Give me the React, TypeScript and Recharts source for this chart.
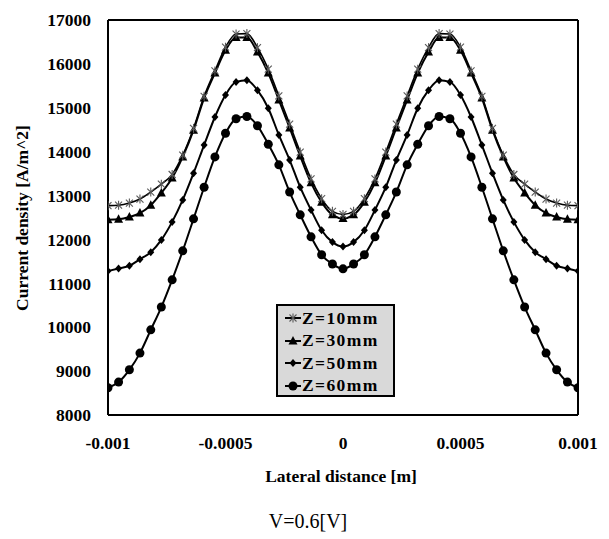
import React from 'react';
import { LineChart, Line, XAxis, YAxis, ReferenceLine, Label } from 'recharts';

const lateralDistance = [
  -0.001, -0.000955, -0.000909, -0.000864, -0.000818, -0.000773, -0.000727, -0.000682, -0.000636,
  -0.000591, -0.000545, -0.0005, -0.000455, -0.000409, -0.000364, -0.000318, -0.000273, -0.000227,
  -0.000182, -0.000136, -0.000091, -0.000045, 0, 0.000045, 0.000091, 0.000136, 0.000182, 0.000227,
  0.000273, 0.000318, 0.000364, 0.000409, 0.000455, 0.0005, 0.000545, 0.000591, 0.000636, 0.000682,
  0.000727, 0.000773, 0.000818, 0.000864, 0.000909, 0.000955, 0.001,
];

const z10 = [
  12770, 12780, 12830, 12920, 13080, 13260, 13480, 13920, 14530, 15260, 15840, 16380, 16680, 16690,
  16370, 15880, 15270, 14630, 13990, 13380, 12930, 12640, 12570, 12640, 12930, 13380, 13990, 14630,
  15270, 15880, 16370, 16690, 16680, 16380, 15840, 15260, 14530, 13920, 13480, 13260, 13080, 12920,
  12830, 12780, 12770,
];

const z30 = [
  12450, 12460, 12510, 12600, 12780, 13060, 13400, 13880, 14490, 15220, 15790, 16310, 16600, 16600,
  16270, 15790, 15180, 14540, 13900, 13290, 12850, 12560, 12480, 12560, 12850, 13290, 13900, 14540,
  15180, 15790, 16270, 16600, 16600, 16310, 15790, 15220, 14490, 13880, 13400, 13060, 12780, 12600,
  12510, 12460, 12450,
];

const z50 = [
  11280, 11340, 11400, 11550, 11710, 11990, 12400, 12900, 13510, 14150, 14790, 15290, 15590, 15630,
  15400, 14990, 14380, 13810, 13190, 12670, 12210, 11940, 11840, 11940, 12210, 12670, 13190, 13810,
  14380, 14990, 15400, 15630, 15590, 15290, 14790, 14150, 13510, 12900, 12400, 11990, 11710, 11550,
  11400, 11340, 11280,
];

const z60 = [
  8620, 8750, 9030, 9410, 9940, 10460, 11080, 11740, 12470, 13190, 13880, 14420, 14750, 14800,
  14590, 14170, 13700, 13080, 12560, 12060, 11650, 11440, 11330, 11440, 11650, 12060, 12560, 13080,
  13700, 14170, 14590, 14800, 14750, 14420, 13880, 13190, 12470, 11740, 11080, 10460, 9940, 9410,
  9030, 8750, 8620,
];

const seriesNames = ['Z=10mm', 'Z=30mm', 'Z=50mm', 'Z=60mm'];
const xTicks = [-0.001, -0.0005, 0, 0.0005, 0.001];
const yTicks = [8000, 9000, 10000, 11000, 12000, 13000, 14000, 15000, 16000, 17000];

const data = lateralDistance.map((x, i) => ({
  x,
  z10: z10[i],
  z30: z30[i],
  z50: z50[i],
  z60: z60[i],
}));

const SERIF = '"Liberation Serif", "Times New Roman", serif';

type MarkerKind = 'star' | 'triangle' | 'diamond' | 'circle';

const Marker = ({ kind, cx, cy }: { kind: MarkerKind; cx: number; cy: number }) => {
  if (kind === 'star') {
    return (
      <g stroke="#5a5a5a" strokeWidth={1.1} fill="none">
        <line x1={cx - 3.5} y1={cy - 3.5} x2={cx + 3.5} y2={cy + 3.5} />
        <line x1={cx - 3.5} y1={cy + 3.5} x2={cx + 3.5} y2={cy - 3.5} />
        <line x1={cx} y1={cy - 4.5} x2={cx} y2={cy + 4.5} />
      </g>
    );
  }
  if (kind === 'triangle') {
    return <polygon points={`${cx},${cy - 5} ${cx - 4.5},${cy + 3.5} ${cx + 4.5},${cy + 3.5}`} fill="#000" />;
  }
  if (kind === 'diamond') {
    return <polygon points={`${cx},${cy - 4} ${cx + 3.5},${cy} ${cx},${cy + 4} ${cx - 3.5},${cy}`} fill="#000" />;
  }
  return <circle cx={cx} cy={cy} r={4.5} fill="#000" />;
};

const makeDot = (kind: MarkerKind) => (props: any) => {
  const { cx, cy, index } = props;
  if (cx == null || cy == null) return <g key={`d-${kind}-${index}`} />;
  return (
    <g key={`d-${kind}-${index}`}>
      <Marker kind={kind} cx={cx} cy={cy} />
    </g>
  );
};

const kinds: MarkerKind[] = ['star', 'triangle', 'diamond', 'circle'];

const LegendBox = () => (
  <div
    style={{
      position: 'absolute',
      left: 276,
      top: 304,
      width: 119,
      height: 93,
      boxSizing: 'border-box',
      border: '2px solid #000',
      background: '#d9d9d9',
      fontFamily: SERIF,
      fontWeight: 'bold',
      fontSize: 17.5,
      color: '#000',
      paddingLeft: 6,
      paddingTop: 1,
    }}
  >
    {seriesNames.map((name, i) => (
      <div key={name} style={{ display: 'flex', alignItems: 'center', height: 22.5 }}>
        <svg width={18} height={12} style={{ display: 'block' }}>
          <line x1={1} y1={6} x2={17} y2={6} stroke="#000" strokeWidth={2} />
          <Marker kind={kinds[i]} cx={9} cy={6} />
        </svg>
        <span style={{ letterSpacing: 1.4, whiteSpace: 'nowrap' }}>{name}</span>
      </div>
    ))}
  </div>
);

const YTitle = () => (
  <text
    x={22}
    y={218}
    transform="rotate(-90, 22, 218)"
    textAnchor="middle"
    dominantBaseline="central"
    fontFamily={SERIF}
    fontWeight="bold"
    fontSize={17.5}
    fill="#000"
  >
    Current density [A/m^2]
  </text>
);

export default function App() {
  return (
    <div style={{ position: 'absolute', left: 0, top: 0, width: 609, height: 539, background: '#fff' }}>
      <LineChart
        width={609}
        height={539}
        data={data}
        margin={{ top: 20, right: 31, bottom: 84, left: 48 }}
      >
        <XAxis
          dataKey="x"
          type="number"
          domain={[-0.001, 0.001]}
          ticks={xTicks}
          tickFormatter={(v: number) => String(v)}
          allowDataOverflow
          axisLine={{ stroke: '#000', strokeWidth: 2 }}
          tickLine={false}
          tickSize={0}
          tickMargin={22}
          height={40}
          tick={{ fontFamily: SERIF, fontWeight: 'bold', fontSize: 17.5, fill: '#000' }}
        >
          <Label
            value="Lateral distance [m]"
            position="bottom"
            offset={15}
            dx={-2}
            style={{ fontFamily: SERIF, fontWeight: 'bold', fontSize: 17.5, fill: '#000' }}
          />
        </XAxis>
        <YAxis
          type="number"
          domain={[8000, 17000]}
          ticks={yTicks}
          allowDataOverflow
          width={60}
          axisLine={{ stroke: '#000', strokeWidth: 2 }}
          tickLine={false}
          tickSize={0}
          tickMargin={17}
          tick={{ fontFamily: SERIF, fontWeight: 'bold', fontSize: 17.5, fill: '#000' }}
        >
          <Label content={() => <YTitle />} />
        </YAxis>
        <ReferenceLine y={17000} stroke="#000" strokeWidth={2} />
        <ReferenceLine x={0.001} stroke="#000" strokeWidth={2} />
        <Line
          dataKey="z60"
          name={seriesNames[3]}
          type="monotone"
          stroke="#000"
          strokeWidth={2}
          dot={makeDot('circle')}
          isAnimationActive={false}
        />
        <Line
          dataKey="z50"
          name={seriesNames[2]}
          type="monotone"
          stroke="#000"
          strokeWidth={2}
          dot={makeDot('diamond')}
          isAnimationActive={false}
        />
        <Line
          dataKey="z30"
          name={seriesNames[1]}
          type="monotone"
          stroke="#000"
          strokeWidth={2}
          dot={makeDot('triangle')}
          isAnimationActive={false}
        />
        <Line
          dataKey="z10"
          name={seriesNames[0]}
          type="monotone"
          stroke="#000"
          strokeWidth={1.6}
          dot={makeDot('star')}
          isAnimationActive={false}
        />
      </LineChart>
      <LegendBox />
      <div
        style={{
          position: 'absolute',
          left: 0,
          width: 616,
          top: 509,
          textAlign: 'center',
          fontFamily: SERIF,
          fontSize: 20,
          color: '#000',
          lineHeight: '24px',
        }}
      >
        V=0.6[V]
      </div>
    </div>
  );
}
